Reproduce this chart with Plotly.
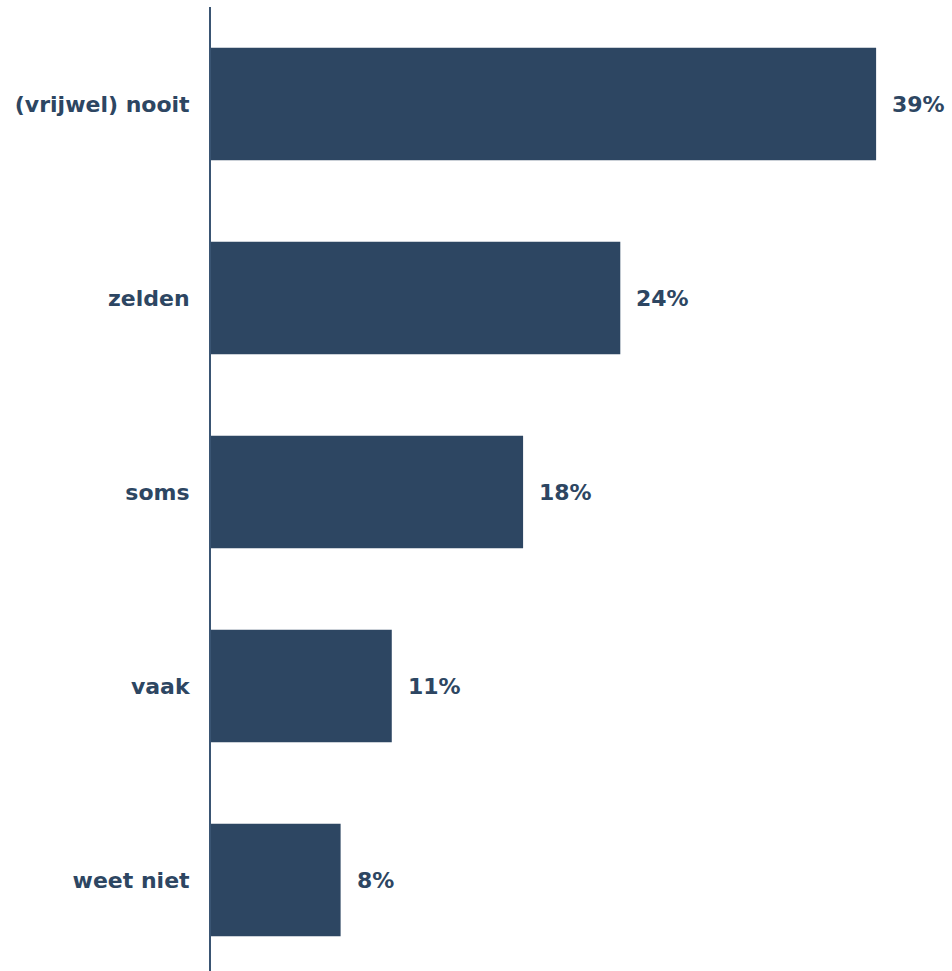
import plotly.graph_objects as go

# Answer categories (top to bottom) and their shares in percent
categories = ["(vrijwel) nooit", "zelden", "soms", "vaak", "weet niet"]
values = [39.0, 24.0, 18.3, 10.6, 7.6]
labels = [f"{round(v)}%" for v in values]

bar_color = "#2d4662"
font_family = "Verdana, 'DejaVu Sans', sans-serif"

fig = go.Figure(
    go.Bar(
        x=values,
        y=categories,
        orientation="h",
        marker=dict(color=bar_color, line=dict(width=0)),
        hoverinfo="skip",
    )
)

# Value labels just right of each bar end
for cat, v, lab in zip(categories, values, labels):
    fig.add_annotation(
        x=v, y=cat, text=f"<b>{lab}</b>", showarrow=False,
        xanchor="left", yanchor="middle", xshift=14,
        font=dict(family=font_family, size=22, color=bar_color),
    )

fig.update_layout(
    width=952,
    height=971,
    margin=dict(l=211, r=0, t=7, b=0),
    paper_bgcolor="white",
    plot_bgcolor="white",
    bargap=0.42,
    showlegend=False,
    font=dict(family=font_family, size=22, color=bar_color),
)
fig.update_xaxes(
    range=[0, 43.45], visible=False, showgrid=False, zeroline=False,
)
fig.update_yaxes(
    type="category",
    categoryorder="array",
    categoryarray=categories,
    range=[4.469, -0.5],
    showline=True, linecolor="#3a5573", linewidth=2,
    showgrid=False, zeroline=False,
    ticks="", ticklabelstandoff=15,
    tickfont=dict(family=font_family, size=22, color=bar_color, weight="bold"),
)

fig.write_html("out.html")
